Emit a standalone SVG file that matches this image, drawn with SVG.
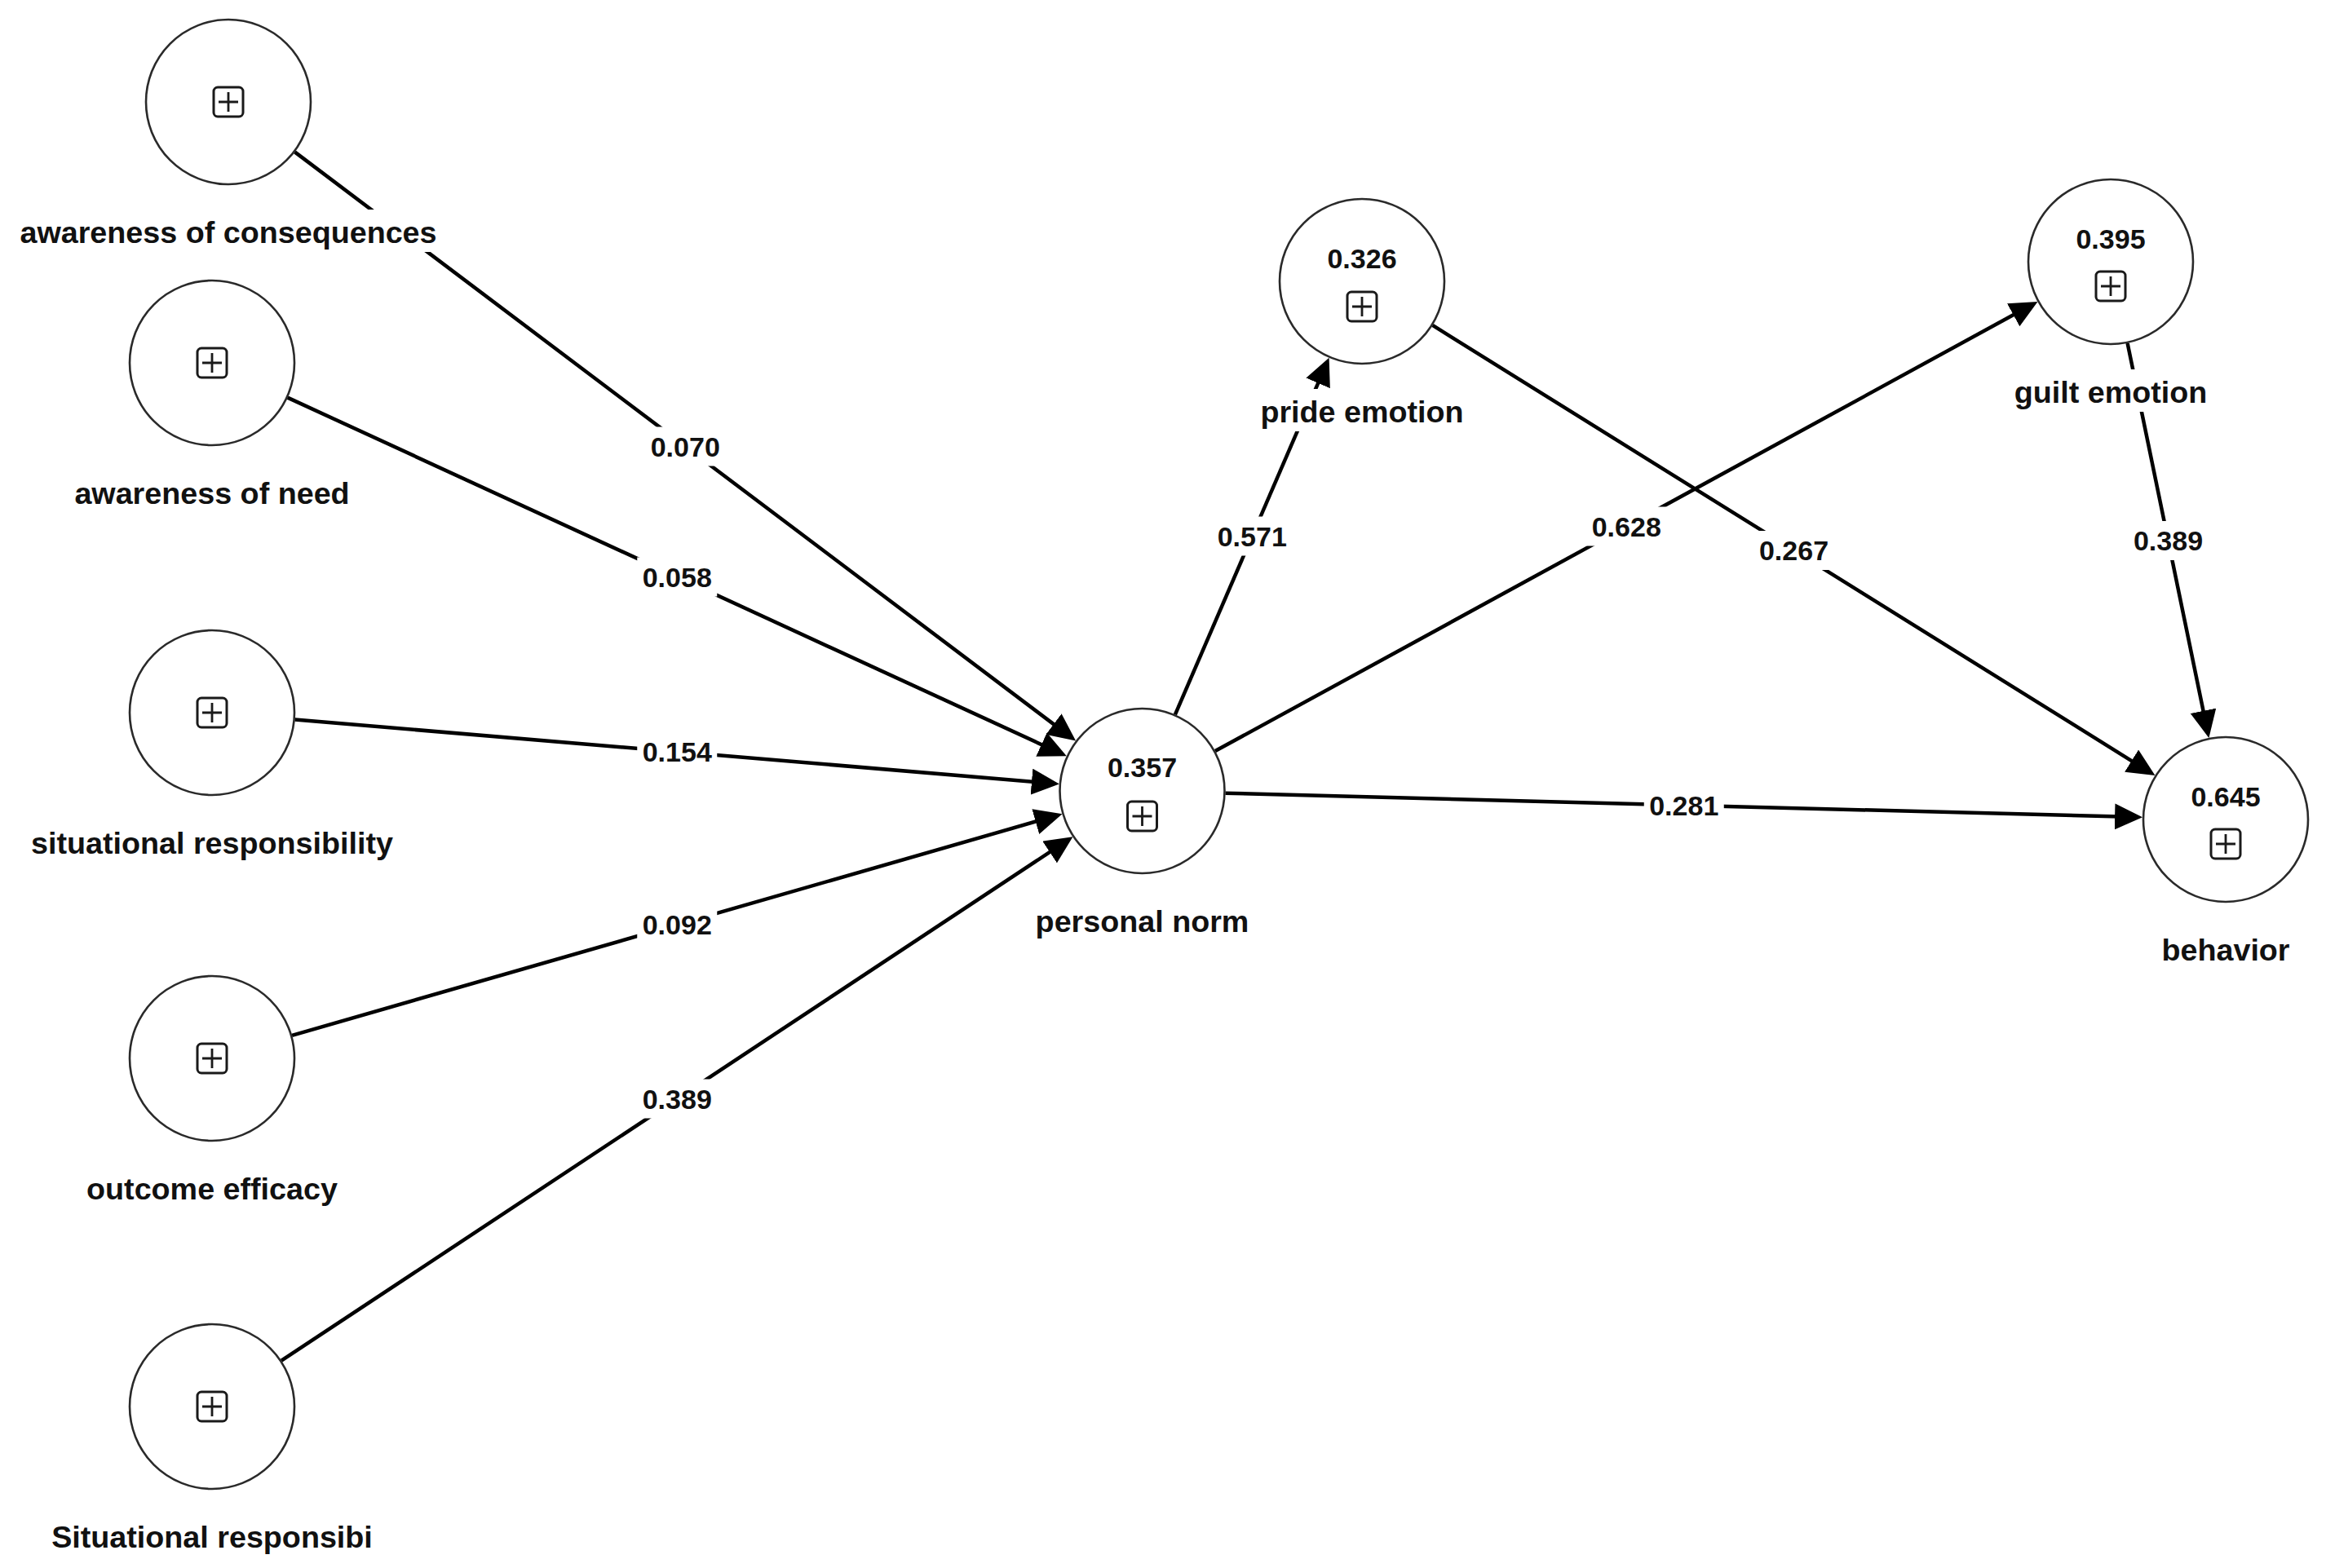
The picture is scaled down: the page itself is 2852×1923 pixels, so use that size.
<svg xmlns="http://www.w3.org/2000/svg" xmlns:xlink="http://www.w3.org/1999/xlink" width="2852" height="1923" viewBox="0 0 2852 1923">
<style>
.bg{fill:#ffffff}
.edge{stroke:#000;stroke-width:4.5;fill:none;marker-end:url(#arr)}
.node{fill:#ffffff;stroke:#2a2a2a;stroke-width:2.6}
.lbl{font-family:"Liberation Sans",Arial,sans-serif;font-weight:bold;font-size:37.7px;fill:#111;text-anchor:middle}
.val{font-family:"Liberation Sans",Arial,sans-serif;font-weight:bold;font-size:34px;fill:#111;text-anchor:middle}
.box{fill:#ffffff;stroke:none}
</style>
<defs>
<marker id="arr" markerUnits="userSpaceOnUse" viewBox="0 0 34 32" markerWidth="34" markerHeight="32" refX="17" refY="16" orient="auto">
<path d="M0,0 L34,16 L0,32 Z" fill="#000"/>
</marker>
<g id="icon">
<rect x="-18" y="-18" width="36" height="36" rx="5" ry="5" fill="#fff" stroke="#1a1a1a" stroke-width="3"/>
<path d="M-12,0 H12 M0,-12 V12" stroke="#1a1a1a" stroke-width="2.8" fill="none"/>
</g>
</defs>
<rect class="bg" x="0" y="0" width="2852" height="1923"/>

<g id="connectors">
<line class="edge" x1="361.44" y1="186.42" x2="1305.49" y2="898.34"/>
<line class="edge" x1="352.66" y1="487.65" x2="1292.40" y2="920.24"/>
<line class="edge" x1="361.64" y1="882.56" x2="1281.92" y2="960.01"/>
<line class="edge" x1="358.03" y1="1269.81" x2="1286.13" y2="1002.89"/>
<line class="edge" x1="345.05" y1="1668.70" x2="1301.27" y2="1035.68"/>
<line class="edge" x1="1440.89" y1="876.34" x2="1622.88" y2="454.27"/>
<line class="edge" x1="1490.01" y1="921.08" x2="2483.57" y2="378.07"/>
<line class="edge" x1="1756.56" y1="398.95" x2="2628.01" y2="942.06"/>
<line class="edge" x1="1502.46" y1="972.69" x2="2610.05" y2="1001.86"/>
<line class="edge" x1="2608.59" y1="420.90" x2="2704.98" y2="888.45"/>

<g id="edge-labels">
<rect class="box" x="791.25" y="523.5" width="98" height="48"/><text class="val" x="840.25" y="559.5">0.070</text>
<rect class="box" x="781.25" y="683.5" width="98" height="48"/><text class="val" x="830.25" y="719.5">0.058</text>
<rect class="box" x="781.25" y="898" width="98" height="48"/><text class="val" x="830.25" y="934">0.154</text>
<rect class="box" x="781.25" y="1110" width="98" height="48"/><text class="val" x="830.25" y="1146">0.092</text>
<rect class="box" x="781.25" y="1323.5" width="98" height="48"/><text class="val" x="830.25" y="1359.5">0.389</text>
<rect class="box" x="1486.25" y="633.5" width="98" height="48"/><text class="val" x="1535.25" y="669.5">0.571</text>
<rect class="box" x="1945.25" y="621.5" width="98" height="48"/><text class="val" x="1994.25" y="657.5">0.628</text>
<rect class="box" x="2150.5" y="651" width="98" height="48"/><text class="val" x="2199.5" y="687">0.267</text>
<rect class="box" x="2015.75" y="963.5" width="98" height="48"/><text class="val" x="2064.75" y="999.5">0.281</text>
<rect class="box" x="2609.5" y="639" width="98" height="48"/><text class="val" x="2658.5" y="675">0.389</text>
</g>
</g>

<g id="node-ac">
<circle class="node" cx="280" cy="125" r="101"/>
<use xlink:href="#icon" href="#icon" x="280" y="125"/>
<rect class="box" x="18.5" y="257" width="523" height="52"/>
<text class="lbl" x="280" y="298">awareness of consequences</text>
</g>
<g id="node-an">
<circle class="node" cx="260" cy="445" r="101"/>
<use xlink:href="#icon" href="#icon" x="260" y="445"/>
<rect class="box" x="85.5" y="577" width="349" height="52"/>
<text class="lbl" x="260" y="618">awareness of need</text>
</g>
<g id="node-sr">
<circle class="node" cx="260" cy="874" r="101"/>
<use xlink:href="#icon" href="#icon" x="260" y="874"/>
<rect class="box" x="32" y="1006" width="456" height="52"/>
<text class="lbl" x="260" y="1047">situational responsibility</text>
</g>
<g id="node-oe">
<circle class="node" cx="260" cy="1298" r="101"/>
<use xlink:href="#icon" href="#icon" x="260" y="1298"/>
<rect class="box" x="100" y="1430" width="320" height="52"/>
<text class="lbl" x="260" y="1471">outcome efficacy</text>
</g>
<g id="node-sr2">
<circle class="node" cx="260" cy="1725" r="101"/>
<use xlink:href="#icon" href="#icon" x="260" y="1725"/>
<rect class="box" x="57" y="1857" width="406" height="52"/>
<text class="lbl" x="260" y="1898">Situational responsibi</text>
</g>
<g id="node-pn">
<circle class="node" cx="1400.5" cy="970" r="101"/>
<text class="val" x="1400.5" y="953">0.357</text>
<use xlink:href="#icon" href="#icon" x="1400.5" y="1001"/>
<rect class="box" x="1263.5" y="1102" width="274" height="52"/>
<text class="lbl" x="1400.5" y="1143">personal norm</text>
</g>
<g id="node-pe">
<circle class="node" cx="1670" cy="345" r="101"/>
<text class="val" x="1670" y="329">0.326</text>
<use xlink:href="#icon" href="#icon" x="1670" y="376"/>
<rect class="box" x="1539.5" y="477" width="261" height="52"/>
<text class="lbl" x="1670" y="518">pride emotion</text>
</g>
<g id="node-ge">
<circle class="node" cx="2588" cy="321" r="101"/>
<text class="val" x="2588" y="305">0.395</text>
<use xlink:href="#icon" href="#icon" x="2588" y="351"/>
<rect class="box" x="2463.5" y="453" width="249" height="52"/>
<text class="lbl" x="2588" y="494">guilt emotion</text>
</g>
<g id="node-be">
<circle class="node" cx="2729" cy="1005" r="101"/>
<text class="val" x="2729" y="989">0.645</text>
<use xlink:href="#icon" href="#icon" x="2729" y="1035"/>
<rect class="box" x="2644" y="1137" width="170" height="52"/>
<text class="lbl" x="2729" y="1178">behavior</text>
</g>
</svg>
